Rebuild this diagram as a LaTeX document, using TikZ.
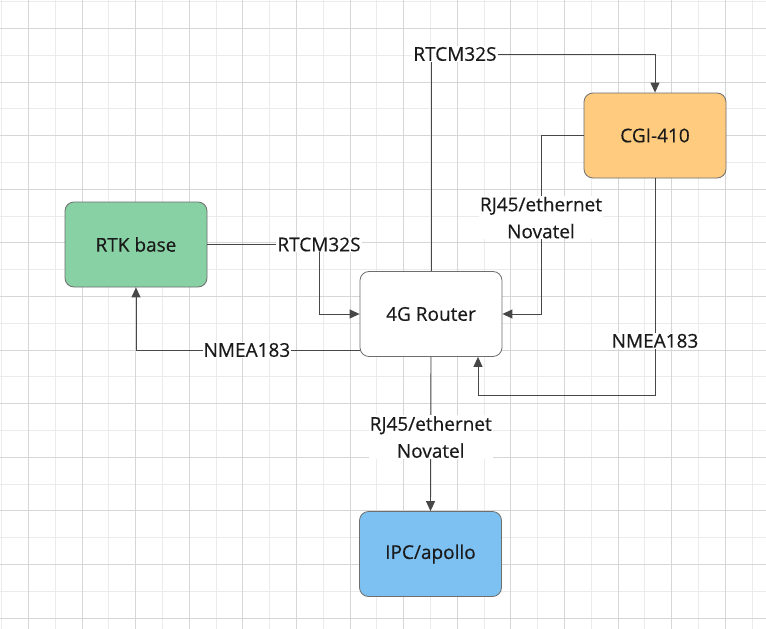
\documentclass[tikz,border=0pt]{standalone}
\usepackage{fontspec}
\setmainfont[FakeBold=0.4]{Open Sans}
\usetikzlibrary{arrows.meta}
\definecolor{gridmajor}{HTML}{D6D6D6}
\definecolor{gridminor}{HTML}{EBEBEB}
\definecolor{linegray}{HTML}{474747}
\definecolor{rtkgreen}{HTML}{88D1A5}
\definecolor{cgiorange}{HTML}{FECB7F}
\definecolor{ipcblue}{HTML}{7DC1F2}
\definecolor{boxborder}{HTML}{6E6E6E}
\definecolor{txt}{HTML}{1A1A1A}
\begin{document}
\begin{tikzpicture}[x=1pt,y=-1pt,
  box/.style={draw=boxborder, line width=0.8pt, rounded corners=9pt,
    minimum width=142pt, minimum height=85pt, inner sep=0pt,
    font=\fontsize{19}{23}\selectfont, text=txt},
  conn/.style={draw=linegray, line width=0.9pt, -{Triangle[length=10pt,width=9pt]}},
  lbl/.style={fill=white, inner sep=1pt, align=center,
    font=\fontsize{19}{27}\selectfont, text=txt}]
\useasboundingbox (0,0) rectangle (766,629);
\fill[white] (0,0) rectangle (766,629);
% grid
\foreach \i in {0,...,28} {\pgfmathsetmacro\gx{round(1.2+26.8*\i)+0.5}
  \draw[gridminor, line width=1.4pt] (\gx,0) -- (\gx,629);}
\foreach \i in {0,...,23} {\pgfmathsetmacro\gy{round(1.2+26.8*\i)+0.5}
  \draw[gridminor, line width=1.4pt] (0,\gy) -- (766,\gy);}
\foreach \i in {0,...,13} {\pgfmathsetmacro\gx{round(28+53.6*\i)+0.5}
  \draw[gridmajor, line width=1.6pt] (\gx,0) -- (\gx,629);}
\foreach \i in {0,...,11} {\pgfmathsetmacro\gy{round(28+53.6*\i)+0.5}
  \draw[gridmajor, line width=1.6pt] (0,\gy) -- (766,\gy);}
% nodes
\node[box, fill=rtkgreen] (rtk) at (136,244.5) {RTK base};
\node[box, fill=white] (router) at (431,314) {4G Router};
\node[box, fill=cgiorange] (cgi) at (655,135.5) {CGI-410};
\node[box, fill=ipcblue] (ipc) at (430.5,554) {IPC/apollo};
% connectors
\draw[conn] (rtk.east) -| node[lbl] (l1) {RTCM32S} (319,314) -- (router.west);
\draw[conn] ([yshift=-36pt]router.west) -| node[lbl,pos=0.252] (l2) {NMEA183} (rtk.south);
\draw[conn] (router.north) -- (431,54) -- node[lbl,pos=0.107] (l3) {RTCM32S} (655,54) -- (cgi.north);
\draw[conn] (cgi.west) -- (541,135.5) -- node[lbl,pos=0.46] (l4) {RJ45/ethernet\\Novatel} (541,314) -- (router.east);
\draw[conn] (cgi.south) -- node[lbl,pos=0.75] (l5) {NMEA183} (655,395) -- (478,395) -- ([xshift=47pt]router.south);
\draw[conn] (router.south) -- node[lbl,pos=0.52] (l6) {RJ45/ethernet\\Novatel} (ipc.north);
\end{tikzpicture}
\end{document}
